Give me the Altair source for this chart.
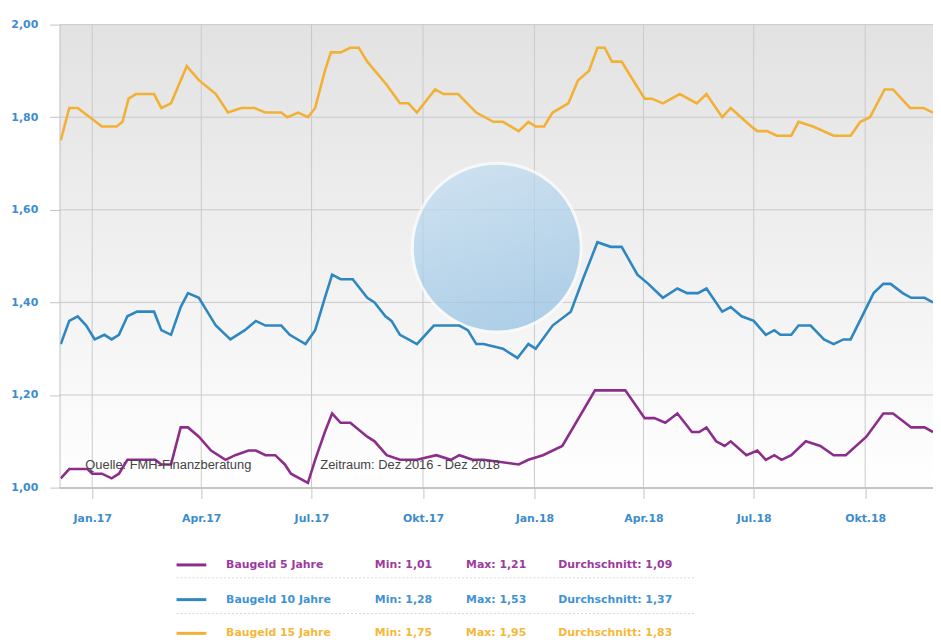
import altair as alt
import pandas as pd

# ---------------- data ----------------
series_names = ["Baugeld 5 Jahre", "Baugeld 10 Jahre", "Baugeld 15 Jahre"]

# days relative to 2017-01-01
days_5 = [-26, -19, -4, 0, 8, 16, 22, 29, 52, 57, 65, 73, 79, 88, 98, 110, 118, 129, 135,
          143, 151, 159, 164, 178, 184, 192, 198, 205, 213, 227, 233, 243, 254, 268, 284,
          296, 303, 314, 323, 352, 360, 372, 388, 415, 440, 456, 464, 473, 483, 495, 501,
          507, 515, 522, 527, 540, 549, 556, 563, 569, 577, 589, 601, 612, 622, 639, 653,
          661, 671, 676, 687, 694]
vals_5 = [1.02, 1.04, 1.04, 1.03, 1.03, 1.02, 1.03, 1.06, 1.06, 1.05, 1.05, 1.13, 1.13, 1.11,
          1.08, 1.06, 1.07, 1.08, 1.08, 1.07, 1.07, 1.05, 1.03, 1.01, 1.06, 1.12, 1.16, 1.14,
          1.14, 1.11, 1.10, 1.07, 1.06, 1.06, 1.07, 1.06, 1.07, 1.06, 1.06, 1.05, 1.06, 1.07,
          1.09, 1.21, 1.21, 1.15, 1.15, 1.14, 1.16, 1.12, 1.12, 1.13, 1.10, 1.09, 1.10, 1.07,
          1.08, 1.06, 1.07, 1.06, 1.07, 1.10, 1.09, 1.07, 1.07, 1.11, 1.16, 1.16, 1.14, 1.13,
          1.13, 1.12]

days_10 = [-26, -19, -12, -5, 2, 10, 16, 22, 29, 37, 51, 57, 65, 73, 79, 88, 102, 114, 126,
           135, 143, 156, 163, 176, 184, 192, 198, 205, 215, 227, 233, 242, 247, 254, 261,
           268, 282, 303, 310, 317, 323, 339, 351, 360, 366, 380, 395, 405, 417, 428, 437,
           450, 459, 471, 483, 491, 500, 507, 520, 527, 536, 546, 556, 563, 568, 577, 583,
           593, 604, 612, 620, 626, 645, 653, 659, 669, 676, 687, 694]
vals_10 = [1.31, 1.36, 1.37, 1.35, 1.32, 1.33, 1.32, 1.33, 1.37, 1.38, 1.38, 1.34, 1.33, 1.39,
           1.42, 1.41, 1.35, 1.32, 1.34, 1.36, 1.35, 1.35, 1.33, 1.31, 1.34, 1.41, 1.46, 1.45,
           1.45, 1.41, 1.40, 1.37, 1.36, 1.33, 1.32, 1.31, 1.35, 1.35, 1.34, 1.31, 1.31, 1.30,
           1.28, 1.31, 1.30, 1.35, 1.38, 1.45, 1.53, 1.52, 1.52, 1.46, 1.44, 1.41, 1.43, 1.42,
           1.42, 1.43, 1.38, 1.39, 1.37, 1.36, 1.33, 1.34, 1.33, 1.33, 1.35, 1.35, 1.32, 1.31,
           1.32, 1.32, 1.42, 1.44, 1.44, 1.42, 1.41, 1.41, 1.40]

days_15 = [-26, -19, -12, -2, 8, 20, 25, 30, 36, 51, 57, 65, 78, 88, 102, 112, 123, 134, 143,
           156, 161, 170, 178, 184, 192, 197, 205, 213, 220, 227, 243, 254, 261, 268, 283,
           290, 302, 317, 331, 339, 352, 360, 366, 373, 380, 393, 401, 410, 417, 423, 429,
           437, 444, 456, 462, 471, 485, 499, 507, 520, 527, 544, 549, 557, 565, 577, 583,
           595, 612, 626, 634, 642, 654, 661, 675, 686, 694]
vals_15 = [1.75, 1.82, 1.82, 1.80, 1.78, 1.78, 1.79, 1.84, 1.85, 1.85, 1.82, 1.83, 1.91, 1.88,
           1.85, 1.81, 1.82, 1.82, 1.81, 1.81, 1.80, 1.81, 1.80, 1.82, 1.90, 1.94, 1.94, 1.95,
           1.95, 1.92, 1.87, 1.83, 1.83, 1.81, 1.86, 1.85, 1.85, 1.81, 1.79, 1.79, 1.77, 1.79,
           1.78, 1.78, 1.81, 1.83, 1.88, 1.90, 1.95, 1.95, 1.92, 1.92, 1.89, 1.84, 1.84, 1.83,
           1.85, 1.83, 1.85, 1.80, 1.82, 1.78, 1.77, 1.77, 1.76, 1.76, 1.79, 1.78, 1.76, 1.76,
           1.79, 1.80, 1.86, 1.86, 1.82, 1.82, 1.81]

legend_min = ["1,01", "1,28", "1,75"]
legend_max = ["1,21", "1,53", "1,95"]
legend_avg = ["1,09", "1,37", "1,83"]

x_tick_dates = ["2017-01-01", "2017-04-01", "2017-07-01", "2017-10-01",
                "2018-01-01", "2018-04-01", "2018-07-01", "2018-10-01"]
x_tick_labels = ["Jan.17", "Apr.17", "Jul.17", "Okt.17",
                 "Jan.18", "Apr.18", "Jul.18", "Okt.18"]
y_ticks = [1.0, 1.2, 1.4, 1.6, 1.8, 2.0]

notes = ["Quelle: FMH-Finanzberatung", "Zeitraum: Dez 2016 - Dez 2018"]

# ---------------- styling ----------------
line_colors = ["#8c2d8c", "#2f87c2", "#f2b134"]
legend_colors = ["#9c3a9e", "#3f93d3", "#f5b83a"]
axis_blue = "#3d8ccc"
W, H = 881, 467
FONT = "DejaVu Sans"

BASE = pd.Timestamp("2017-01-01")


def to_dates(days):
    return [(BASE + pd.Timedelta(days=int(d))).strftime("%Y-%m-%d") for d in days]


rows = []
for name, dd, vv in zip(series_names, [days_5, days_10, days_15], [vals_5, vals_10, vals_15]):
    for d, v in zip(to_dates(dd), vv):
        rows.append({"series": name, "date": d, "rate": v})
df = pd.DataFrame(rows)

one = alt.Data(values=[{}])

# label expression built from tick lists
lab_expr = "''"
for d, lab in reversed(list(zip(x_tick_dates, x_tick_labels))):
    lab_expr = f"utcFormat(datum.value, '%Y-%m') == '{d[:7]}' ? '{lab}' : ({lab_expr})"

x_scale = alt.Scale(type="utc", nice=False,
                    domain=[alt.DateTime(year=2016, month=12, date=5, utc=True),
                            alt.DateTime(year=2018, month=11, date=26, utc=True)])
y_scale = alt.Scale(domain=[1.0, 2.0], nice=False, zero=False)

x_axis = alt.Axis(
    values=[alt.DateTime(year=int(d[:4]), month=int(d[5:7]), date=1, utc=True) for d in x_tick_dates],
    labelExpr=lab_expr, title=None, grid=False, tickSize=11, labelPadding=14,
    domainColor="#c4c4c4", domainWidth=2, tickColor="#c4c4c4", tickWidth=1,
    labelColor=axis_blue, labelFont=FONT, labelFontSize=11, labelFontWeight="bold",
    zindex=1)
y_axis = alt.Axis(
    values=y_ticks, labelExpr="replace(format(datum.value, '.2f'), '.', ',')",
    title=None, grid=False, tickSize=10, labelPadding=12,
    domainColor="#c4c4c4", tickColor="#c4c4c4",
    labelColor=axis_blue, labelFont=FONT, labelFontSize=11, labelFontWeight="bold",
    zindex=1)

background = alt.Chart(one).mark_rect(
    color=alt.LinearGradient(
        gradient="linear", x1=0, x2=0, y1=0, y2=1,
        stops=[alt.GradientStop(offset=0, color="#e2e2e2"),
               alt.GradientStop(offset=0.6, color="#f3f3f3"),
               alt.GradientStop(offset=1, color="#ffffff")])
).encode(x=alt.value(0), x2=alt.value(W), y=alt.value(0), y2=alt.value(H))

grid_y = alt.Chart(pd.DataFrame({"rate": y_ticks})).mark_rule(
    color="#c9c9c9", strokeWidth=1).encode(y=alt.Y("rate:Q", scale=y_scale, axis=y_axis))
grid_x = alt.Chart(pd.DataFrame({"date": x_tick_dates})).mark_rule(
    color="#c9c9c9", strokeWidth=1).encode(x=alt.X("date:T", scale=x_scale, axis=x_axis))

watermark = alt.Chart(one).mark_circle(
    size=29000, opacity=0.72, stroke="#ffffff", strokeWidth=3, strokeOpacity=0.9,
    color=alt.LinearGradient(
        gradient="linear", x1=0.3, x2=0.6, y1=0, y2=1,
        stops=[alt.GradientStop(offset=0, color="#c3def2"),
               alt.GradientStop(offset=1, color="#92c0e3")])
).encode(x=alt.value(441), y=alt.value(225))

lines = alt.Chart(df).mark_line(strokeWidth=2.6, clip=True).encode(
    x=alt.X("date:T", scale=x_scale, axis=x_axis),
    y=alt.Y("rate:Q", scale=y_scale, axis=y_axis),
    color=alt.Color("series:N", scale=alt.Scale(domain=series_names, range=line_colors),
                    legend=None),
    detail="series:N",
)

note_layers = []
for txt, xpos in zip(notes, [26, 263]):
    note_layers.append(
        alt.Chart(one).mark_text(align="left", baseline="middle", font="Liberation Sans",
                                 fontSize=13, color="#444444")
        .encode(x=alt.value(xpos), y=alt.value(444), text=alt.value(txt)))

legend_layers = []
row_y = [545, 580, 614]
for sep_y in [558, 594]:
    legend_layers.append(
        alt.Chart(one).mark_rule(color="#d8d8d8", strokeDash=[2, 2], strokeWidth=1)
        .encode(x=alt.value(118), x2=alt.value(640), y=alt.value(sep_y)))
for i, name in enumerate(series_names):
    legend_layers.append(
        alt.Chart(one).mark_rule(color=line_colors[i], strokeWidth=3)
        .encode(x=alt.value(118), x2=alt.value(148), y=alt.value(row_y[i])))
    cols = [(168, name), (318, f"Min: {legend_min[i]}"), (410, f"Max: {legend_max[i]}"),
            (503, f"Durchschnitt: {legend_avg[i]}")]
    for xpos, txt in cols:
        legend_layers.append(
            alt.Chart(one).mark_text(align="left", baseline="middle", font=FONT,
                                     fontSize=11, fontWeight="bold", color=legend_colors[i])
            .encode(x=alt.value(xpos), y=alt.value(row_y[i]), text=alt.value(txt)))

chart = alt.layer(
    background, grid_y, grid_x, watermark, lines, *note_layers, *legend_layers
).properties(
    width=W, height=H,
    autosize=alt.AutoSizeParams(type="none"),
    padding={"left": 52, "top": 14, "right": 0, "bottom": 154},
).configure_view(stroke=None)

chart.save("out.html", embed_options={"renderer": "svg", "actions": False})
